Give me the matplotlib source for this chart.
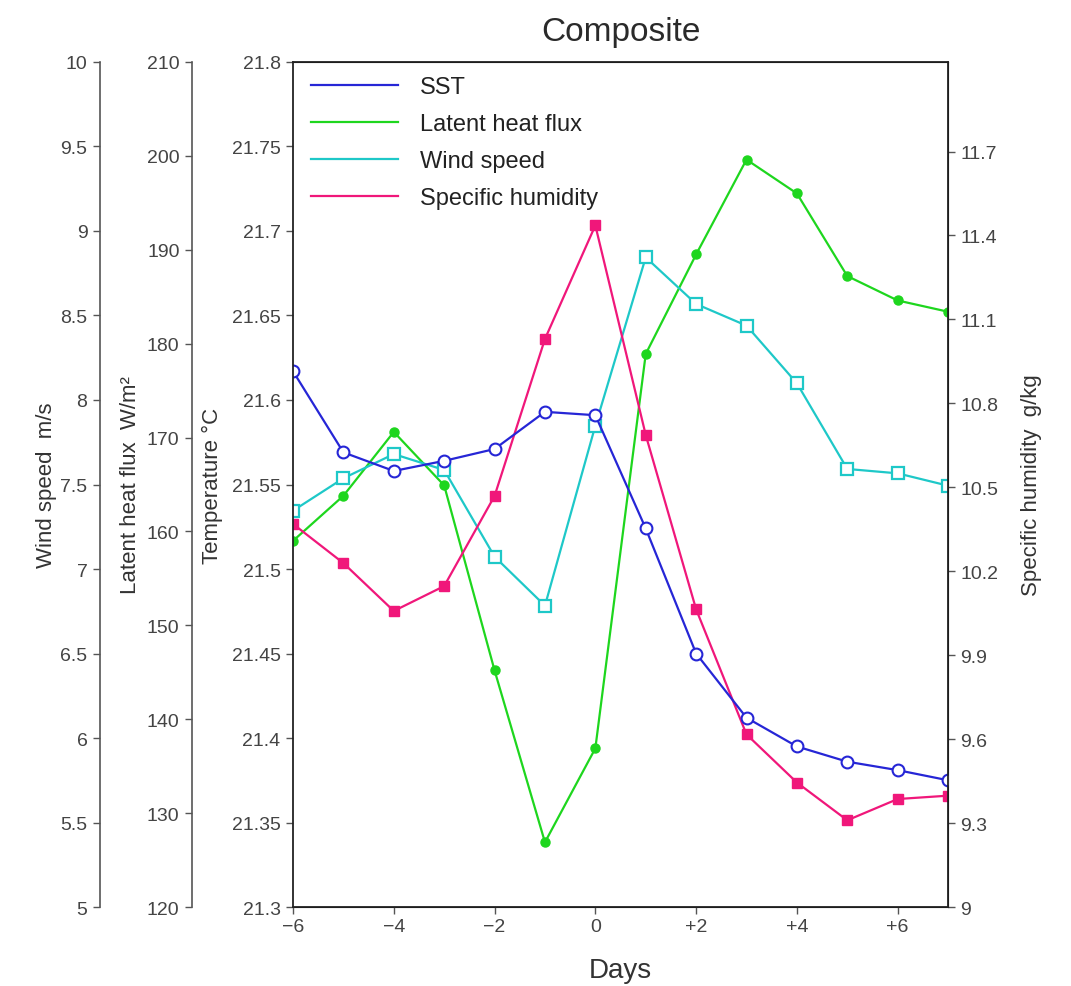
import numpy as np
import matplotlib.pyplot as plt
from matplotlib.lines import Line2D
from matplotlib.ticker import FixedLocator

# data
days = [-6, -5, -4, -3, -2, -1, 0, 1, 2, 3, 4, 5, 6, 7]
sst = [21.617, 21.569, 21.558, 21.564, 21.571, 21.593, 21.591,
       21.524, 21.450, 21.412, 21.395, 21.386, 21.381, 21.375]
latent = [159.0, 163.8, 170.6, 164.9, 145.2, 126.9, 136.9,
          178.9, 189.5, 199.6, 196.0, 187.2, 184.6, 183.4]
wind = [7.345, 7.537, 7.680, 7.586, 7.073, 6.783, 7.848,
        8.844, 8.568, 8.440, 8.099, 7.592, 7.566, 7.493]
humidity = [10.369, 10.229, 10.058, 10.147, 10.469, 11.030, 11.436,
            10.687, 10.064, 9.617, 9.445, 9.310, 9.386, 9.398]

day_ticks = [-6, -4, -2, 0, 2, 4, 6]
day_labels = ['\u22126', '\u22124', '\u22122', '0', '+2', '+4', '+6']
temp_ticks = [21.3, 21.35, 21.4, 21.45, 21.5, 21.55, 21.6, 21.65, 21.7, 21.75, 21.8]
latent_ticks = [120, 130, 140, 150, 160, 170, 180, 190, 200, 210]
wind_ticks = [5, 5.5, 6, 6.5, 7, 7.5, 8, 8.5, 9, 9.5, 10]
hum_ticks = [9, 9.3, 9.6, 9.9, 10.2, 10.5, 10.8, 11.1, 11.4, 11.7]

c_sst = '#2626d6'
c_lat = '#1ed61e'
c_wind = '#1ec8c8'
c_hum = '#f0177a'
tick_col = '#444444'
lab_col = '#333333'
spine_col = '#555555'

plt.rcParams['font.family'] = ['Liberation Sans', 'DejaVu Sans']

fig = plt.figure(figsize=(10.71, 9.87), dpi=100)
ax = fig.add_axes([0.2736, 0.0800, 0.6116, 0.8562])

ax_lat = ax.twinx()
ax_wind = ax.twinx()
ax_hum = ax.twinx()


def style_ticks(a, side):
    a.tick_params(axis='y', which='both', direction='out', length=5, width=1,
                  colors=spine_col, labelcolor=tick_col, labelsize=14, pad=4,
                  left=(side == 'left'), labelleft=(side == 'left'),
                  right=(side == 'right'), labelright=(side == 'right'))


for a, pos in [(ax_lat, -0.1542), (ax_wind, -0.2947)]:
    a.spines['left'].set_visible(True)
    a.spines['left'].set_position(('axes', pos))
    a.spines['right'].set_visible(False)
    a.spines['top'].set_visible(False)
    a.spines['bottom'].set_visible(False)
    a.yaxis.set_label_position('left')
    a.yaxis.set_ticks_position('left')
    a.spines['left'].set_color(spine_col)
    a.spines['left'].set_linewidth(1.2)
    style_ticks(a, 'left')

ax_hum.spines['left'].set_visible(False)
style_ticks(ax_hum, 'right')
for s in ax.spines.values():
    s.set_color('#222222')
    s.set_linewidth(1.3)

# series
ax_lat.plot(days, latent, color=c_lat, lw=1.6, marker='o', ms=6.5, mfc=c_lat, mec=c_lat)
ax_wind.plot(days, wind, color=c_wind, lw=1.6, marker='s', ms=8, mfc='white', mec=c_wind, mew=1.6)
ax_hum.plot(days, humidity, color=c_hum, lw=1.6, marker='s', ms=6.5, mfc=c_hum, mec=c_hum)
ax.plot(days, sst, color=c_sst, lw=1.6, marker='o', ms=8.5, mfc='white', mec=c_sst, mew=1.5)
ax.set_zorder(ax_hum.get_zorder() + 1)
ax.patch.set_visible(False)

# limits and ticks
ax.set_xlim(-6, 7)
ax.set_ylim(21.3, 21.8)
ax_lat.set_ylim(120, 210)
ax_wind.set_ylim(5, 10)
ax_hum.set_ylim(9, 12.02)

ax.set_xticks(day_ticks)
ax.set_xticklabels(day_labels)
ax.tick_params(axis='x', direction='out', length=5, width=1, colors=spine_col,
               labelcolor=tick_col, labelsize=14, pad=3, top=False)
ax.yaxis.set_major_locator(FixedLocator(temp_ticks))
ax.set_yticklabels(['%g' % t for t in temp_ticks])
style_ticks(ax, 'left')
ax_lat.set_yticks(latent_ticks)
ax_lat.set_yticklabels(['%g' % t for t in latent_ticks])
ax_wind.set_yticks(wind_ticks)
ax_wind.set_yticklabels(['%g' % t for t in wind_ticks])
ax_hum.set_yticks(hum_ticks)
ax_hum.set_yticklabels(['%g' % t for t in hum_ticks])

# labels
ax.set_ylabel('Temperature \u00b0C', fontsize=16, color=lab_col, labelpad=6)
ax_lat.set_ylabel('Latent heat flux  W/m\u00b2', fontsize=16, color=lab_col, labelpad=4.5)
ax_wind.set_ylabel('Wind speed  m/s', fontsize=16, color=lab_col, labelpad=2.5)
ax_hum.set_ylabel('Specific humidity  g/kg', fontsize=16, color=lab_col, labelpad=16)
ax.set_xlabel('Days', fontsize=20, color=lab_col, labelpad=16)
ax.set_title('Composite', fontsize=24, color='#2a2a2a', pad=16)

handles = [Line2D([], [], color=c_sst, lw=1.6),
           Line2D([], [], color=c_lat, lw=1.6),
           Line2D([], [], color=c_wind, lw=1.6),
           Line2D([], [], color=c_hum, lw=1.6)]
names = ['SST', 'Latent heat flux', 'Wind speed', 'Specific humidity']
leg = ax.legend(handles, names, loc='upper left', bbox_to_anchor=(-0.003, 1.007),
                frameon=False, fontsize=17, handlelength=3.7, handletextpad=0.9,
                labelspacing=0.64, borderaxespad=0.45)
for t in leg.get_texts():
    t.set_color('#222222')

fig.savefig('out.png', dpi=100)
